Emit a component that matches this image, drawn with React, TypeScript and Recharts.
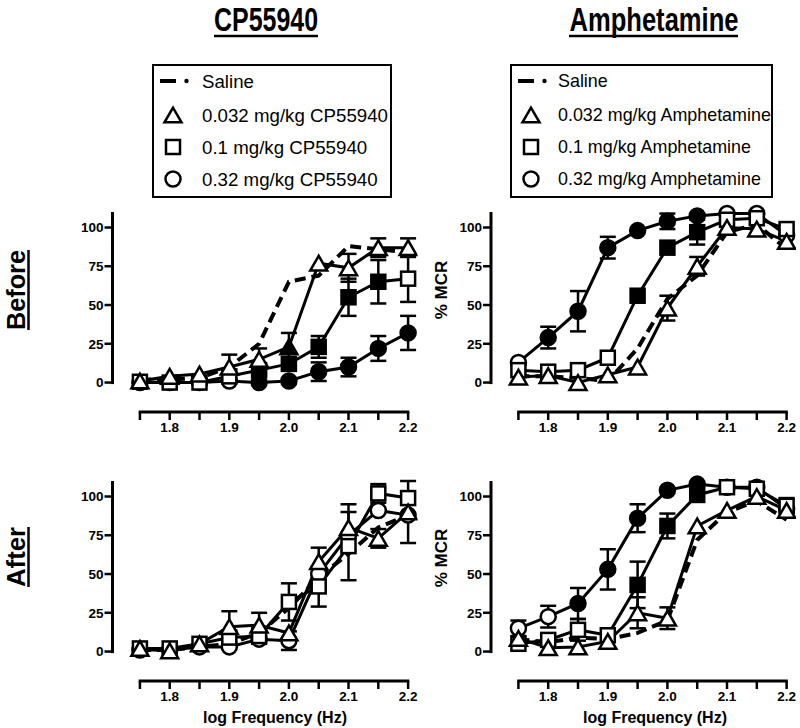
import React from 'react';
import { ComposedChart, Line, XAxis, YAxis, ErrorBar, ReferenceLine } from 'recharts';

// ---------- shared axes / labels ----------
const freqs = [1.75, 1.8, 1.85, 1.9, 1.95, 2.0, 2.05, 2.1, 2.15, 2.2];
const xTickText = ['', '1.8', '', '1.9', '', '2.0', '', '2.1', '', '2.2'];
const yTicks = [0, 25, 50, 75, 100];

const doseLabels = ['Saline', '0.032 mg/kg', '0.1 mg/kg', '0.32 mg/kg'];
const drugs = ['CP55940', 'Amphetamine'];
const phases = ['Before', 'After'];
const yAxisTitle = '% MCR';
const xAxisTitle = 'log Frequency (Hz)';

// ---------- CP55940, Before ----------
const cpBeforeSaline = [2, 2, 3, 10, 25, 65, 69, 88, 86, 84];
const cpBeforeLow = [1, 4, 5.5, 10, 15, 23, 77, 74, 87, 87];
const cpBeforeLowErr = [0, 0, 0, 8, 7, 9, 0, 9, 6, 6];
const cpBeforeLowSig = [0, 0, 0, 0, 0, 1, 0, 0, 0, 0];
const cpBeforeMid = [0.5, 0, 0, 4, 8, 12, 23, 55, 65, 67];
const cpBeforeMidErr = [0, 0, 0, 0, 3, 4, 7, 12, 14, 15];
const cpBeforeMidSig = [0, 0, 0, 0, 1, 1, 1, 1, 1, 0];
const cpBeforeHigh = [0, 0, 0, 1, 0, 1, 7, 10, 22, 32];
const cpBeforeHighErr = [0, 0, 0, 0, 0, 2, 6, 6, 8, 11];
const cpBeforeHighSig = [0, 0, 0, 0, 1, 1, 1, 1, 1, 1];

// ---------- Amphetamine, Before ----------
const amBeforeSaline = [4, 4, 3, 1, 22, 54, 69, 97, 102, 86];
const amBeforeLow = [3.5, 4.5, 0, 5, 10, 48, 75, 100, 99, 91];
const amBeforeLowErr = [0, 0, 0, 0, 0, 8, 6, 0, 0, 0];
const amBeforeLowSig = [0, 0, 0, 0, 0, 0, 0, 0, 0, 0];
const amBeforeMid = [8, 7, 8, 16, 56, 87, 97, 105, 106, 99];
const amBeforeMidErr = [0, 0, 0, 0, 0, 0, 8, 0, 0, 0];
const amBeforeMidSig = [0, 0, 0, 0, 1, 1, 1, 0, 0, 0];
const amBeforeHigh = [13, 29, 46, 87, 98, 104, 107.5, 109, 109, 95];
const amBeforeHighErr = [0, 7, 13, 7, 0, 5, 0, 0, 0, 0];
const amBeforeHighSig = [0, 1, 1, 1, 1, 1, 1, 0, 0, 0];

// ---------- CP55940, After ----------
const cpAfterSaline = [1, 1, 3, 5, 12, 28, 48, 63, 80, 88];
const cpAfterLow = [2, 0.5, 5, 16, 17, 12, 58, 80, 73, 90];
const cpAfterLowErr = [0, 0, 0, 10, 8, 0, 9, 15, 6, 20];
const cpAfterLowSig = [0, 0, 0, 0, 0, 0, 0, 0, 0, 0];
const cpAfterMid = [2, 2, 5, 9, 10, 32, 42, 68, 102, 99];
const cpAfterMidErr = [0, 0, 0, 0, 5, 12, 13, 22, 6, 0];
const cpAfterMidSig = [0, 0, 0, 0, 0, 0, 0, 0, 0, 0];
const cpAfterHigh = [1, 1, 3, 3, 8, 7, 50, 75, 91, 88];
const cpAfterHighErr = [0, 0, 0, 0, 0, 6, 0, 0, 0, 0];
const cpAfterHighSig = [0, 0, 0, 0, 0, 0, 0, 0, 0, 0];

// ---------- Amphetamine, After ----------
const amAfterSaline = [8, 6, 9, 8, 12, 20, 72, 90, 97, 85];
const amAfterLow = [8.5, 2.5, 3, 6.5, 25, 21.5, 81, 91, 100, 91];
const amAfterLowErr = [0, 0, 0, 0, 10, 7, 0, 0, 0, 0];
const amAfterLowSig = [0, 0, 0, 0, 0, 0, 0, 0, 0, 0];
const amAfterMid = [5, 7.5, 14, 10.5, 43, 81, 101, 106, 105, 94];
const amAfterMidErr = [0, 0, 7, 0, 15, 8, 0, 0, 0, 5];
const amAfterMidSig = [0, 0, 0, 0, 1, 1, 1, 0, 0, 0];
const amAfterHigh = [15, 22.5, 31, 53, 86, 104, 108, 106, 106, 92];
const amAfterHighErr = [5, 7, 10, 13, 9, 0, 0, 0, 0, 0];
const amAfterHighSig = [0, 0, 1, 1, 1, 1, 1, 0, 0, 0];

// ---------- helpers ----------
const FONT = "'Liberation Sans', Arial, Helvetica, sans-serif";
const X0 = 1.704;
const X1 = 2.216;
const Y0 = -19;
const Y1 = 120;
const PXX = 596;
const PXY = 1.5504;
const PLOT_W = (X1 - X0) * PXX;
const PLOT_H = (Y1 - Y0) * PXY;

type Row = { [k: string]: number };

function buildRows(
  sal: number[],
  lo: number[], loE: number[], loS: number[],
  mid: number[], midE: number[], midS: number[],
  hi: number[], hiE: number[], hiS: number[]
): Row[] {
  return freqs.map((x, i) => ({
    x,
    sal: sal[i],
    lo: lo[i], loE: loE[i], loS: loS[i],
    mid: mid[i], midE: midE[i], midS: midS[i],
    hi: hi[i], hiE: hiE[i], hiS: hiS[i],
  }));
}

function Marker({ shape, cx, cy, filled }: { shape: string; cx: number; cy: number; filled: boolean }) {
  const fill = filled ? '#000' : '#fff';
  const sw = 2.5;
  if (shape === 'circle') return <circle cx={cx} cy={cy} r={7.5} fill={fill} stroke="#000" strokeWidth={sw} />;
  if (shape === 'square') return <rect x={cx - 7} y={cy - 7} width={14} height={14} fill={fill} stroke="#000" strokeWidth={sw} />;
  const s = 17;
  const h = s * 0.866;
  const pts = `${cx},${cy - h / 2} ${cx - s / 2},${cy + h / 2} ${cx + s / 2},${cy + h / 2}`;
  return <polygon points={pts} fill={fill} stroke="#000" strokeWidth={sw} strokeLinejoin="miter" />;
}

const dotFn = (shape: string, sigKey: string) => (props: any) => {
  const { cx, cy, payload, index } = props;
  if (cx == null || cy == null) return <g key={`e${shape}${index}`} />;
  return (
    <g key={`d${shape}${index}`}>
      <Marker shape={shape} cx={cx} cy={cy} filled={!!payload[sigKey]} />
    </g>
  );
};

const tickStyle = { fill: '#000', fontSize: 13.5, fontWeight: 'bold' as const, fontFamily: FONT };

function Panel({ rows, left, top, marginLeft }: { rows: Row[]; left: number; top: number; marginLeft: number }) {
  const width = marginLeft + 50 + PLOT_W;
  const height = 11.5 + PLOT_H + 30;
  return (
    <div style={{ position: 'absolute', left, top }}>
      <ComposedChart width={width} height={height} data={rows} margin={{ top: 11.5, right: 0, bottom: 0, left: marginLeft }}>
        <XAxis
          type="number"
          dataKey="x"
          domain={[X0, X1]}
          allowDataOverflow
          ticks={freqs}
          interval={0}
          tickFormatter={(v: number) => xTickText[freqs.indexOf(v)] ?? ''}
          axisLine={false}
          tickLine={{ stroke: '#000', strokeWidth: 2.5 }}
          tickSize={8}
          tick={tickStyle}
          height={30}
        />
        <YAxis
          type="number"
          domain={[Y0, Y1]}
          allowDataOverflow
          ticks={yTicks}
          interval={0}
          axisLine={false}
          tickLine={{ stroke: '#000', strokeWidth: 2.5 }}
          tickSize={8}
          tickMargin={1}
          tick={tickStyle}
          width={50}
        />
        <ReferenceLine segment={[{ x: X0, y: -1 }, { x: X0, y: 110 }]} stroke="#000" strokeWidth={3} ifOverflow="visible" />
        <ReferenceLine segment={[{ x: freqs[0] - 0.002, y: Y0 }, { x: freqs[freqs.length - 1] + 0.002, y: Y0 }]} stroke="#000" strokeWidth={3} ifOverflow="visible" />
        <Line dataKey="sal" stroke="#000" strokeWidth={4} strokeDasharray="11 6" dot={false} activeDot={false} isAnimationActive={false} />
        <Line dataKey="hi" stroke="#000" strokeWidth={3} dot={dotFn('circle', 'hiS')} activeDot={false} isAnimationActive={false}>
          <ErrorBar dataKey="hiE" width={8} stroke="#000" strokeWidth={2.5} direction="y" />
        </Line>
        <Line dataKey="mid" stroke="#000" strokeWidth={3} dot={dotFn('square', 'midS')} activeDot={false} isAnimationActive={false}>
          <ErrorBar dataKey="midE" width={8} stroke="#000" strokeWidth={2.5} direction="y" />
        </Line>
        <Line dataKey="lo" stroke="#000" strokeWidth={3} dot={dotFn('triangle', 'loS')} activeDot={false} isAnimationActive={false}>
          <ErrorBar dataKey="loE" width={8} stroke="#000" strokeWidth={2.5} direction="y" />
        </Line>
      </ComposedChart>
    </div>
  );
}

function LegendBox({ x, y, w, h, drug, fontSize, textDx }: { x: number; y: number; w: number; h: number; drug: string; fontSize: number; textDx: number }) {
  const rowsY = [y + 16, y + 50, y + 82, y + 114];
  const mx = x + 20;
  const tx = x + textDx;
  const shapes = ['', 'triangle', 'square', 'circle'];
  return (
    <g>
      <rect x={x} y={y} width={w} height={h} fill="#fff" stroke="#000" strokeWidth={2} />
      <line x1={x + 7} y1={rowsY[0]} x2={x + 23} y2={rowsY[0]} stroke="#000" strokeWidth={4} />
      <circle cx={x + 33.5} cy={rowsY[0]} r={2.2} fill="#000" />
      {shapes.map((s, i) =>
        s ? <Marker key={s} shape={s} cx={mx} cy={rowsY[i]} filled={false} /> : null
      )}
      {doseLabels.map((d, i) => (
        <text key={d} x={tx} y={rowsY[i] + fontSize * 0.35} fontSize={fontSize} fontFamily={FONT} fill="#000">
          {i === 0 ? d : `${d} ${drug}`}
        </text>
      ))}
    </g>
  );
}

export default function App() {
  const cpBefore = buildRows(cpBeforeSaline, cpBeforeLow, cpBeforeLowErr, cpBeforeLowSig, cpBeforeMid, cpBeforeMidErr, cpBeforeMidSig, cpBeforeHigh, cpBeforeHighErr, cpBeforeHighSig);
  const amBefore = buildRows(amBeforeSaline, amBeforeLow, amBeforeLowErr, amBeforeLowSig, amBeforeMid, amBeforeMidErr, amBeforeMidSig, amBeforeHigh, amBeforeHighErr, amBeforeHighSig);
  const cpAfter = buildRows(cpAfterSaline, cpAfterLow, cpAfterLowErr, cpAfterLowSig, cpAfterMid, cpAfterMidErr, cpAfterMidSig, cpAfterHigh, cpAfterHighErr, cpAfterHighSig);
  const amAfter = buildRows(amAfterSaline, amAfterLow, amAfterLowErr, amAfterLowSig, amAfterMid, amAfterMidErr, amAfterMidSig, amAfterHigh, amAfterHighErr, amAfterHighSig);

  return (
    <div style={{ position: 'absolute', left: 0, top: 0, width: 800, height: 728, background: '#fff', overflow: 'hidden', fontFamily: FONT }}>
      <svg width={800} height={728} style={{ position: 'absolute', left: 0, top: 0 }}>
        {/* column titles */}
        <text x={266} y={31} textAnchor="middle" fontSize={33} fontWeight="bold" fontFamily={FONT} textLength={104} lengthAdjust="spacingAndGlyphs">{drugs[0]}</text>
        <line x1={214} y1={36} x2={318} y2={36} stroke="#000" strokeWidth={2.5} />
        <text x={654} y={31} textAnchor="middle" fontSize={33} fontWeight="bold" fontFamily={FONT} textLength={169} lengthAdjust="spacingAndGlyphs">{drugs[1]}</text>
        <line x1={569} y1={36} x2={738} y2={36} stroke="#000" strokeWidth={2.5} />
        {/* row labels */}
        <text transform="translate(25,290) rotate(-90)" textAnchor="middle" fontSize={25} fontWeight="bold" fontFamily={FONT} textLength={80} lengthAdjust="spacingAndGlyphs">{phases[0]}</text>
        <line x1={28.5} y1={250} x2={28.5} y2={330} stroke="#000" strokeWidth={2.5} />
        <text transform="translate(25,557) rotate(-90)" textAnchor="middle" fontSize={25} fontWeight="bold" fontFamily={FONT} textLength={60} lengthAdjust="spacingAndGlyphs">{phases[1]}</text>
        <line x1={28.5} y1={527} x2={28.5} y2={587} stroke="#000" strokeWidth={2.5} />
        {/* y axis titles */}
        <text transform="translate(447,290) rotate(-90)" textAnchor="middle" fontSize={17} fontWeight="bold" fontFamily={FONT}>{yAxisTitle}</text>
        <text transform="translate(447,558) rotate(-90)" textAnchor="middle" fontSize={17} fontWeight="bold" fontFamily={FONT}>{yAxisTitle}</text>
        {/* x axis titles */}
        <text x={275} y={723} textAnchor="middle" fontSize={16} fontWeight="bold" fontFamily={FONT}>{xAxisTitle}</text>
        <text x={655} y={723} textAnchor="middle" fontSize={16} fontWeight="bold" fontFamily={FONT}>{xAxisTitle}</text>
        {/* legends */}
        <LegendBox x={153} y={65} w={238} h={132} drug={drugs[0]} fontSize={18.7} textDx={49} />
        <LegendBox x={511} y={65} w={261} h={132} drug={drugs[1]} fontSize={17.9} textDx={47} />
      </svg>
      <Panel rows={cpBefore} left={0} top={185} marginLeft={62.5} />
      <Panel rows={amBefore} left={400} top={185} marginLeft={41} />
      <Panel rows={cpAfter} left={0} top={454} marginLeft={62.5} />
      <Panel rows={amAfter} left={400} top={454} marginLeft={41} />
    </div>
  );
}
